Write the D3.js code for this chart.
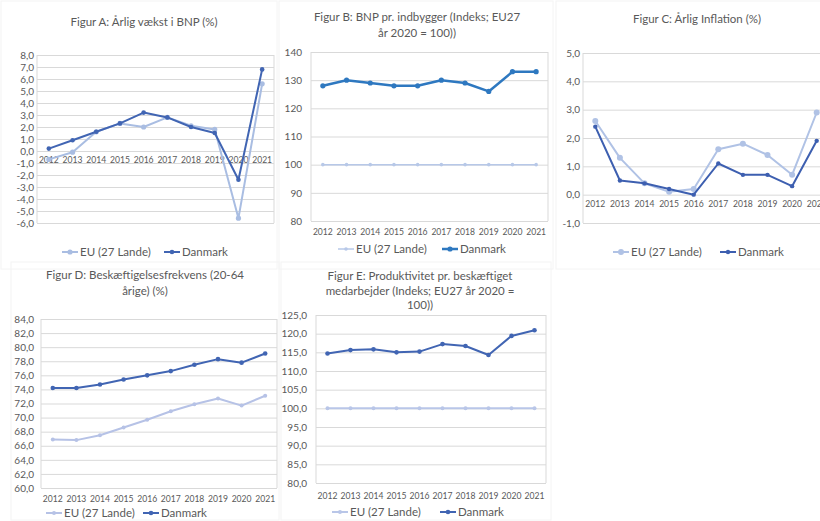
<!DOCTYPE html>
<html><head><meta charset="utf-8">
<script src="https://cdn.jsdelivr.net/npm/d3@7"></script>
<style>body{margin:0;background:#fff;overflow:hidden}svg{display:block;font-family:Lato,"Open Sans",sans-serif}</style>
</head><body><svg id="c" width="820" height="521"></svg>
<script>
const years = ["2012","2013","2014","2015","2016","2017","2018","2019","2020","2021"];
const seriesNames = ["EU (27 Lande)","Danmark"];
// Figur A
const gdpGrowthEU = [-0.7,-0.1,1.6,2.3,2.0,2.8,2.1,1.8,-5.6,5.6];
const gdpGrowthDK = [0.2,0.9,1.6,2.3,3.2,2.8,2.0,1.5,-2.4,6.8];
const ticksA = [8,7,6,5,4,3,2,1,0,-1,-2,-3,-4,-5,-6];
// Figur B
const gdpCapEU = [100,100,100,100,100,100,100,100,100,100];
const gdpCapDK = [128,130,129,128,128,130,129,126,133,133];
const ticksB = [140,130,120,110,100,90,80];
// Figur C
const inflEU = [2.6,1.3,0.4,0.1,0.2,1.6,1.8,1.4,0.7,2.9];
const inflDK = [2.4,0.5,0.4,0.2,0.0,1.1,0.7,0.7,0.3,1.9];
const ticksC = [5,4,3,2,1,0,-1];
// Figur D
const empEU = [66.9,66.8,67.5,68.6,69.7,70.9,71.9,72.7,71.7,73.1];
const empDK = [74.2,74.2,74.7,75.4,76.0,76.6,77.5,78.3,77.8,79.1];
const ticksD = [84,82,80,78,76,74,72,70,68,66,64,62,60];
// Figur E
const prodEU = [100,100,100,100,100,100,100,100,100,100];
const prodDK = [114.7,115.6,115.8,115.0,115.2,117.2,116.7,114.3,119.4,120.9];
const ticksE = [125,120,115,110,105,100,95,90,85,80];

const svg = d3.select("#c");
const comma1 = v => d3.format(".1f")(v).replace(".", ",").replace("−","-");
const int0 = v => d3.format("d")(v);
const TXT = "#595959";

function panel(o){
  const g = svg.append("g");
  if (o.border) g.append("rect").attr("x",o.border[0]).attr("y",o.border[1]).attr("width",o.border[2]).attr("height",o.border[3])
     .attr("fill","none").attr("stroke","#f4f4f4").attr("stroke-width",1);
  const x = d3.scaleBand().domain(years).range([o.x0,o.x1]);
  const y = d3.scaleLinear().domain(d3.extent(o.ticks)).range([o.y1,o.y0]);
  o.title.forEach((t,i)=>g.append("text").attr("x",o.tx).attr("y",o.ty+i*o.tlh).attr("text-anchor","middle")
     .attr("font-size",11.5).attr("fill",TXT).text(t));
  const yAxis = d3.axisLeft(y).tickValues(o.ticks).tickSize(-(o.x1-o.x0)).tickFormat(o.fmt).tickPadding(o.x0-o.ylx);
  const ga = g.append("g").attr("transform",`translate(${o.x0},0)`).call(yAxis);
  ga.select(".domain").remove();
  ga.selectAll(".tick line").attr("stroke","#d9d9d9").attr("stroke-width",1);
  ga.selectAll(".tick text").attr("fill",TXT).attr("font-size",10).attr("font-family","Lato,'Open Sans',sans-serif");
  [o.x0,o.x1].forEach(xx=>g.append("line").attr("x1",xx).attr("x2",xx).attr("y1",o.y0).attr("y2",o.y1).attr("stroke","#d9d9d9"));
  const xl = o.xLabelY!=null ? o.xLabelY : y(0)+12;
  years.forEach(yr=>g.append("text").attr("x",x(yr)+x.bandwidth()/2).attr("y",xl).attr("text-anchor","middle")
     .attr("font-size",8.6).attr("fill",TXT).text(yr));
  const data = [o.eu,o.dk];
  const cols = [o.euColor,o.dkColor];
  const widths = [o.euW,o.dkW];
  data.forEach((vals,si)=>{
    const pts = vals.map((v,i)=>[x(years[i])+x.bandwidth()/2,y(v)]);
    g.append("path").attr("d",d3.line()(pts)).attr("fill","none").attr("stroke",cols[si]).attr("stroke-width",widths[si]).attr("stroke-linejoin","round");
    pts.forEach(p=>g.append("circle").attr("cx",p[0]).attr("cy",p[1]).attr("r",si===0?o.euR:o.dkR).attr("fill",cols[si]));
  });
  o.leg.forEach((lx,si)=>{
    g.append("line").attr("x1",lx).attr("x2",lx+16).attr("y1",o.legY).attr("y2",o.legY).attr("stroke",cols[si]).attr("stroke-width",widths[si]);
    g.append("circle").attr("cx",lx+8).attr("cy",o.legY).attr("r",si===0?o.euR:o.dkR).attr("fill",cols[si]);
    g.append("text").attr("x",lx+18).attr("y",o.legY+4).attr("font-size",11.5).attr("fill",TXT).text(seriesNames[si]);
  });
}

const EU = "#a9bde2", DK = "#4165b3";
panel({title:["Figur A: Årlig vækst i BNP (%)"],tx:144,ty:26,tlh:15,x0:37,x1:274,y0:55,y1:223,ticks:ticksA,fmt:comma1,ylx:34,
  eu:gdpGrowthEU,dk:gdpGrowthDK,euColor:EU,dkColor:DK,euW:2,dkW:2,euR:2.6,dkR:2.3,leg:[62,164],legY:252,border:[1,1,276,268]});
panel({title:["Figur B: BNP pr. indbygger (Indeks; EU27","år 2020 = 100))"],tx:417,ty:21,tlh:16,x0:311,x1:548,y0:52,y1:221,ticks:ticksB,fmt:int0,ylx:302,
  xLabelY:235,eu:gdpCapEU,dk:gdpCapDK,euColor:"#b7c8e8",dkColor:"#2e78c0",euW:1.5,dkW:2.5,euR:1.8,dkR:2.6,leg:[338,442],legY:249,border:[279,1,274,268]});
panel({title:["Figur C: Årlig Inflation (%)"],tx:697,ty:23,tlh:15,x0:583,x1:829,y0:53,y1:223,ticks:ticksC,fmt:comma1,ylx:580,
  eu:inflEU,dk:inflDK,euColor:"#b0c2e5",dkColor:"#3d5fb0",euW:2,dkW:2,euR:3,dkR:2.2,leg:[613,720],legY:252,border:[556,1,270,268]});
panel({title:["Figur D: Beskæftigelsesfrekvens (20-64","årige) (%)"],tx:145,ty:279,tlh:16,x0:41,x1:277,y0:319,y1:488,ticks:ticksD,fmt:comma1,ylx:34,
  xLabelY:502,eu:empEU,dk:empDK,euColor:"#b6c2e6",dkColor:DK,euW:2,dkW:2,euR:2,dkR:2.3,leg:[46,143],legY:513,border:[11,262,268,258]});
panel({title:["Figur E: Produktivitet pr. beskæftiget","medarbejder (Indeks; EU27 år 2020 =","100))"],tx:420,ty:280,tlh:14.5,x0:316,x1:546,y0:315,y1:483,ticks:ticksE,fmt:comma1,ylx:307,
  xLabelY:499,eu:prodEU,dk:prodDK,euColor:"#b9c6e8",dkColor:DK,euW:2,dkW:2,euR:2,dkR:2.3,leg:[332,440],legY:512,border:[281,262,270,258]});
</script></body></html>
